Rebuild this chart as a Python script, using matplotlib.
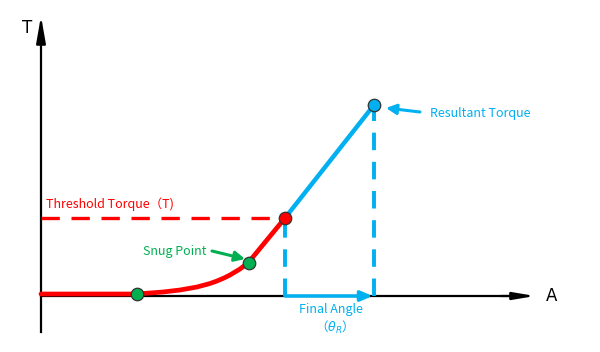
import matplotlib.pyplot as plt

plt.rcParams['font.family'] = ['Noto Sans CJK SC', 'DejaVu Sans']

# tightening curve (angle A, torque T)
angle_curve = [0, 96, 122, 139, 156, 169, 176, 183, 189, 199, 207, 244]
torque_curve = [2, 2, 4, 6, 9, 12.5, 15, 18, 21, 27, 33, 78]

seat_pt = (96, 2)
snug_pt = (208, 33)
threshold_pt = (244, 78)
resultant_pt = (333, 191)

RED = '#FF0000'
BLUE = '#00B0F0'
GREEN = '#00B050'

fig = plt.figure(figsize=(6, 3.52), dpi=100)
ax = fig.add_axes([0, 0, 1, 1])
ax.set_xlim(-41, 559)
ax.set_ylim(-56, 296)
ax.axis('off')

# axes with arrow heads
ax.plot([0, 0], [-36, 262], color='black', lw=1.6)
ax.annotate('', xy=(0, 280), xytext=(0, 250),
            arrowprops=dict(arrowstyle='-|>,head_length=1.6,head_width=0.28',
                            color='black', lw=1.6, shrinkA=0, shrinkB=0))
ax.plot([0, 480], [0, 0], color='black', lw=1.6)
ax.annotate('', xy=(494, 0), xytext=(460, 0),
            arrowprops=dict(arrowstyle='-|>,head_length=1.3,head_width=0.22',
                            color='black', lw=1.6, shrinkA=0, shrinkB=0))
ax.text(-14, 268, 'T', fontsize=12, ha='center', va='center', family='DejaVu Sans')
ax.text(505, 0, 'A', fontsize=12, ha='left', va='center', family='DejaVu Sans')

# reference lines
ax.plot([0, threshold_pt[0]], [threshold_pt[1]] * 2, color=RED, lw=2.4,
        dashes=(5.5, 3.5))
ax.plot([threshold_pt[0]] * 2, [0, threshold_pt[1]], color=BLUE, lw=2.8,
        dashes=(4.5, 3))
ax.plot([resultant_pt[0]] * 2, [0, resultant_pt[1]], color=BLUE, lw=2.8,
        dashes=(4.5, 3))

# curve and final segment
ax.plot(angle_curve, torque_curve, color=RED, lw=3.4, solid_capstyle='round',
        solid_joinstyle='round', zorder=3)
ax.plot([threshold_pt[0], resultant_pt[0]], [threshold_pt[1], resultant_pt[1]],
        color=BLUE, lw=3.2, zorder=3)

# final angle arrow
ax.annotate('', xy=(resultant_pt[0], 0), xytext=(threshold_pt[0], 0),
            arrowprops=dict(arrowstyle='-|>,head_length=0.7,head_width=0.3',
                            color=BLUE, lw=2.5, shrinkA=0, shrinkB=1),
            zorder=4)

# points
for (px, py), c in [(seat_pt, GREEN), (snug_pt, GREEN),
                    (threshold_pt, RED), (resultant_pt, BLUE)]:
    ax.plot(px, py, 'o', ms=9, mfc=c, mec='#333333', mew=0.9, zorder=5)

# labels
ax.text(5, 92, 'Threshold Torque（T)', color=RED, fontsize=9, ha='left', va='center')
ax.text(102, 45, 'Snug Point', color=GREEN, fontsize=9, ha='left', va='center')
ax.annotate('', xy=(snug_pt[0] - 4, snug_pt[1] + 4), xytext=(171, 45),
            arrowprops=dict(arrowstyle='-|>,head_length=0.6,head_width=0.3',
                            color=GREEN, lw=2.2, shrinkA=0, shrinkB=0))
ax.text(389, 183, 'Resultant Torque', color=BLUE, fontsize=9, ha='left', va='center')
ax.annotate('', xy=(resultant_pt[0] + 12, resultant_pt[1] - 3), xytext=(379, 184),
            arrowprops=dict(arrowstyle='-|>,head_length=0.6,head_width=0.3',
                            color=BLUE, lw=2.2, shrinkA=0, shrinkB=0))
ax.text(290, -13, 'Final Angle', color=BLUE, fontsize=9, ha='center', va='center')
ax.text(290, -31, '（$\\boldsymbol{\\theta_R}$）', color=BLUE, fontsize=9,
        ha='center', va='center')

fig.savefig('out.png', dpi=100)
